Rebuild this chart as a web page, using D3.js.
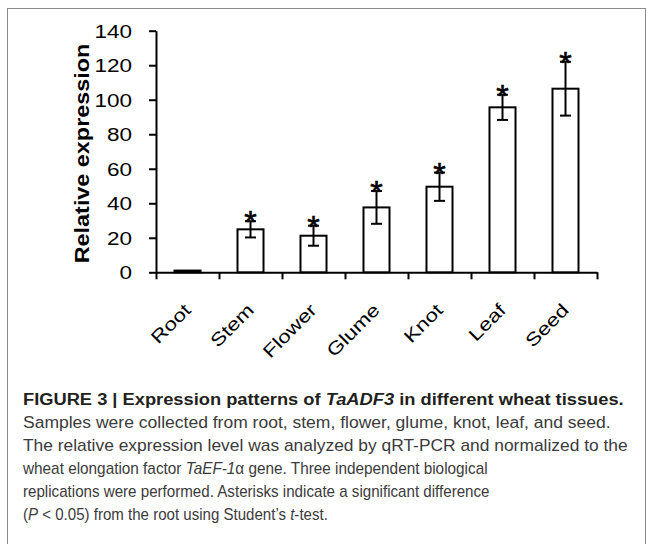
<!DOCTYPE html>
<html>
<head>
<meta charset="utf-8">
<script src="https://cdn.jsdelivr.net/npm/d3@7"></script>
<style>
  body { margin: 0; background: #fff; }
  svg { display: block; }
</style>
</head>
<body>
<div id="chart"></div>
<script>
const tissues = ["Root", "Stem", "Flower", "Glume", "Knot", "Leaf", "Seed"];
const expression = [1, 24.9, 21.2, 37.6, 49.6, 95.6, 106.4];
const errorBars = [0.3, 4.7, 5.8, 9.5, 8.2, 7.3, 15.6];
const significant = [false, true, true, true, true, true, true];
const yTicks = [0, 20, 40, 60, 80, 100, 120, 140];

// caption lines, each with the width it takes in the original figure
const captionLines = [
  { width: 601, bold: true, parts: [["FIGURE 3 | Expression patterns of ", ""], ["TaADF3", "i"], [" in different wheat tissues.", ""]] },
  { width: 588, parts: [["Samples were collected from root, stem, flower, glume, knot, leaf, and seed.", ""]] },
  { width: 605, parts: [["The relative expression level was analyzed by qRT-PCR and normalized to the", ""]] },
  { width: 465, parts: [["wheat elongation factor ", ""], ["TaEF-1", "i"], ["\u03b1", ""], [" gene. Three independent biological", ""]] },
  { width: 467, parts: [["replications were performed. Asterisks indicate a significant difference", ""]] },
  { width: 305, parts: [["(", ""], ["P", "i"], [" < 0.05) from the root using Student\u2019s ", ""], ["t", "i"], ["-test.", ""]] }
];

const width = 652, height = 544;
const svg = d3.select("#chart").append("svg")
  .attr("width", width)
  .attr("height", height);

// figure frame
svg.append("rect")
  .attr("x", 7.5).attr("y", 8.5)
  .attr("width", 638).attr("height", 600)
  .attr("fill", "none")
  .attr("stroke", "#8a8a8a")
  .attr("stroke-width", 1);

const plot = { left: 156, right: 597, top: 30.7, bottom: 272.3 };

const y = d3.scaleLinear().domain([0, 140]).range([plot.bottom, plot.top]);
const x = d3.scaleBand()
  .domain(tissues)
  .range([plot.left, plot.right])
  .paddingInner(0.587)
  .paddingOuter(0.2935);
const xEdges = d3.scaleLinear().domain([0, tissues.length]).range([plot.left, plot.right]);

const font = "'Liberation Sans', Arial, sans-serif";
const stretch = 1.25;

// y axis
const yAxis = svg.append("g")
  .attr("transform", `translate(${plot.left},0)`)
  .call(d3.axisLeft(y).tickValues(yTicks).tickSize(7).tickSizeOuter(0).tickPadding(17));
yAxis.select(".domain").attr("stroke", "#000").attr("stroke-width", 2);
yAxis.selectAll(".tick line").attr("stroke", "#000").attr("stroke-width", 2);
yAxis.selectAll(".tick text")
  .attr("font-family", font)
  .attr("font-size", 18)
  .attr("fill", "#000")
  .attr("dy", "0.36em")
  .each(function () {
    const t = d3.select(this);
    const tx = +t.attr("x");
    t.attr("x", tx / stretch).attr("transform", `scale(${stretch},1)`);
  });

// x axis with ticks at category boundaries
const xAxis = svg.append("g")
  .attr("transform", `translate(0,${plot.bottom})`)
  .call(d3.axisBottom(xEdges).tickValues(d3.range(tissues.length + 1)).tickFormat("").tickSize(7).tickSizeOuter(0));
xAxis.select(".domain").attr("stroke", "#000").attr("stroke-width", 2);
xAxis.selectAll(".tick line").attr("stroke", "#000").attr("stroke-width", 2);

// rotated category labels
svg.append("g").selectAll("text")
  .data(tissues)
  .join("text")
  .attr("transform", d => `translate(${x(d) + x.bandwidth() / 2 - 4.5},${plot.bottom + 30}) rotate(-45) scale(${stretch},1)`)
  .attr("text-anchor", "end")
  .attr("dy", "0.7em")
  .attr("font-family", font)
  .attr("font-size", 18)
  .attr("fill", "#000")
  .text(d => d);

// y axis title
svg.append("text")
  .attr("transform", `translate(89,${(plot.top + plot.bottom) / 2 + 2}) rotate(-90) scale(1.2,1)`)
  .attr("text-anchor", "middle")
  .attr("font-family", font)
  .attr("font-weight", "bold")
  .attr("font-size", 19.5)
  .attr("fill", "#000")
  .text("Relative expression");

const rows = tissues.map((t, i) => ({ t, v: expression[i], e: errorBars[i], sig: significant[i] }));

// bars
svg.append("g").selectAll("rect")
  .data(rows)
  .join("rect")
  .attr("x", d => x(d.t))
  .attr("y", d => y(d.v))
  .attr("width", x.bandwidth())
  .attr("height", d => y(0) - y(d.v))
  .attr("fill", "#fff")
  .attr("stroke", "#000")
  .attr("stroke-width", 2);

// error bars
const capHalf = 5.5;
const err = svg.append("g").selectAll("g")
  .data(rows.filter(d => d.sig))
  .join("g")
  .attr("stroke", "#000")
  .attr("stroke-width", 2);
err.append("line")
  .attr("x1", d => x(d.t) + x.bandwidth() / 2)
  .attr("x2", d => x(d.t) + x.bandwidth() / 2)
  .attr("y1", d => y(d.v + d.e))
  .attr("y2", d => y(d.v - d.e));
err.append("line")
  .attr("x1", d => x(d.t) + x.bandwidth() / 2 - capHalf)
  .attr("x2", d => x(d.t) + x.bandwidth() / 2 + capHalf)
  .attr("y1", d => y(d.v + d.e))
  .attr("y2", d => y(d.v + d.e));
err.append("line")
  .attr("x1", d => x(d.t) + x.bandwidth() / 2 - capHalf)
  .attr("x2", d => x(d.t) + x.bandwidth() / 2 + capHalf)
  .attr("y1", d => y(d.v - d.e))
  .attr("y2", d => y(d.v - d.e));

// significance asterisks
svg.append("g").selectAll("text")
  .data(rows.filter(d => d.sig))
  .join("text")
  .attr("x", d => x(d.t) + x.bandwidth() / 2)
  .attr("y", d => y(d.v + d.e) + 12)
  .attr("text-anchor", "middle")
  .attr("font-family", font)
  .attr("font-size", 32)
  .attr("fill", "#000")
  .attr("stroke", "#000")
  .attr("stroke-width", 0.6)
  .text("*");

// caption
const capG = svg.append("g");
captionLines.forEach((line, i) => {
  const txt = capG.append("text")
    .attr("font-family", font)
    .attr("font-size", 16)
    .attr("font-weight", line.bold ? "bold" : "normal")
    .attr("fill", line.bold ? "#231f20" : "#3b3b3b");
  line.parts.forEach(p => {
    txt.append("tspan")
      .attr("font-style", p[1] === "i" ? "italic" : "normal")
      .text(p[0]);
  });
  const w = txt.node().getComputedTextLength();
  txt.attr("transform", `translate(23,${405 + i * 23}) scale(${line.width / w},1)`);
});
</script>
</body>
</html>
